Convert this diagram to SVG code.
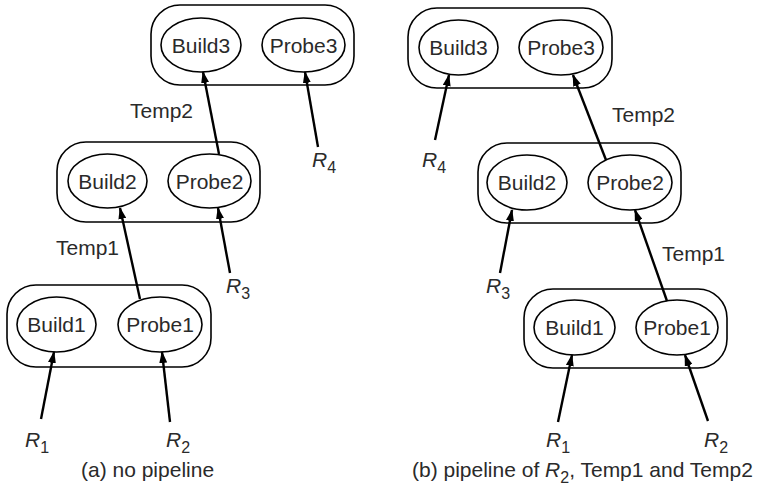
<svg xmlns="http://www.w3.org/2000/svg" width="761" height="500" viewBox="0 0 761 500">
<style>
.box{fill:none;stroke:#000;stroke-width:1.6}
.op{fill:none;stroke:#000;stroke-width:1.6}
.t{font-family:"Liberation Sans",Arial,sans-serif;font-size:21px;fill:#2a2a2a}
.c{text-anchor:middle}
.i{font-style:italic}
.sub{font-size:16px;font-style:normal}
.arr{stroke:#000;stroke-width:2.4;fill:none;marker-end:url(#ah)}
</style>
<defs>
<marker id="ah" markerUnits="userSpaceOnUse" markerWidth="12" markerHeight="8" refX="11" refY="4" orient="auto">
<path d="M0,0 L12,4 L0,8 z" fill="#000"/>
</marker>
</defs>
<rect width="761" height="500" fill="#fff"/>

<!-- (a) -->
<g id="a-group3"><rect class="box" x="151" y="5" width="203" height="80" rx="29"/></g>
<g id="a-build3"><ellipse class="op" cx="201" cy="45" rx="40" ry="27"/><text class="t c" x="201" y="52.5">Build3</text></g>
<g id="a-probe3"><ellipse class="op" cx="303.5" cy="45" rx="41.5" ry="27"/><text class="t c" x="303.5" y="52.5">Probe3</text></g>
<g id="a-group2"><rect class="box" x="57" y="142" width="203" height="80" rx="29"/></g>
<g id="a-build2"><ellipse class="op" cx="107.5" cy="181" rx="39.5" ry="27"/><text class="t c" x="107.5" y="188.5">Build2</text></g>
<g id="a-probe2"><ellipse class="op" cx="209.5" cy="181" rx="41.5" ry="27"/><text class="t c" x="209.5" y="188.5">Probe2</text></g>
<g id="a-group1"><rect class="box" x="7" y="285" width="204" height="82" rx="29"/></g>
<g id="a-build1"><ellipse class="op" cx="56.5" cy="324.5" rx="39.5" ry="27.5"/><text class="t c" x="56.5" y="332">Build1</text></g>
<g id="a-probe1"><ellipse class="op" cx="160" cy="324.5" rx="42" ry="27.5"/><text class="t c" x="160" y="332">Probe1</text></g>

<!-- (b) -->
<g id="b-group3"><rect class="box" x="408" y="8" width="204" height="80" rx="29"/></g>
<g id="b-build3"><ellipse class="op" cx="458.5" cy="47.5" rx="39.5" ry="27.5"/><text class="t c" x="458.5" y="55">Build3</text></g>
<g id="b-probe3"><ellipse class="op" cx="561" cy="47.5" rx="42" ry="27.5"/><text class="t c" x="561" y="55">Probe3</text></g>
<g id="b-group2"><rect class="box" x="478" y="143" width="203" height="80" rx="29"/></g>
<g id="b-build2"><ellipse class="op" cx="527" cy="182.5" rx="40" ry="27.5"/><text class="t c" x="527" y="190">Build2</text></g>
<g id="b-probe2"><ellipse class="op" cx="630" cy="182.5" rx="42" ry="27.5"/><text class="t c" x="630" y="190">Probe2</text></g>
<g id="b-group1"><rect class="box" x="524" y="289" width="203" height="79" rx="29"/></g>
<g id="b-build1"><ellipse class="op" cx="574.5" cy="327.5" rx="40.5" ry="27.5"/><text class="t c" x="574.5" y="335">Build1</text></g>
<g id="b-probe1"><ellipse class="op" cx="677" cy="327.5" rx="41" ry="27.5"/><text class="t c" x="677" y="335">Probe1</text></g>

<g id="connectors">
<line class="arr" x1="219" y1="154" x2="203" y2="72"/>
<line class="arr" x1="318" y1="147" x2="305" y2="72"/>
<line class="arr" x1="140" y1="299" x2="120" y2="208"/>
<line class="arr" x1="230" y1="273" x2="218" y2="208"/>
<line class="arr" x1="41" y1="419" x2="54" y2="352"/>
<line class="arr" x1="170" y1="422" x2="162" y2="352"/>

<line class="arr" x1="435" y1="140" x2="449" y2="75"/>
<line class="arr" x1="606" y1="160" x2="573" y2="75"/>
<line class="arr" x1="500" y1="273" x2="512" y2="210"/>
<line class="arr" x1="667" y1="301" x2="635" y2="210"/>
<line class="arr" x1="558" y1="422" x2="572" y2="355"/>
<line class="arr" x1="708" y1="421" x2="685" y2="355"/>
</g>

<g id="labels">
<text class="t" x="130" y="118">Temp2</text>
<text class="t i" x="312" y="167">R<tspan class="sub" dy="6">4</tspan></text>
<text class="t" x="56" y="255">Temp1</text>
<text class="t i" x="226" y="293">R<tspan class="sub" dy="6">3</tspan></text>
<text class="t i" x="25" y="447">R<tspan class="sub" dy="6">1</tspan></text>
<text class="t i" x="166" y="447">R<tspan class="sub" dy="6">2</tspan></text>
<text class="t" x="81" y="477">(a) no pipeline</text>

<text class="t i" x="422" y="167">R<tspan class="sub" dy="6">4</tspan></text>
<text class="t" x="612" y="122">Temp2</text>
<text class="t i" x="486" y="293">R<tspan class="sub" dy="6">3</tspan></text>
<text class="t" x="662" y="261">Temp1</text>
<text class="t i" x="546" y="447">R<tspan class="sub" dy="6">1</tspan></text>
<text class="t i" x="704" y="447">R<tspan class="sub" dy="6">2</tspan></text>
<text class="t" x="412" y="477">(b) pipeline of <tspan class="i">R</tspan><tspan class="sub" dy="6">2</tspan><tspan dy="-6">, Temp1 and Temp2</tspan></text>
</g>
</svg>
